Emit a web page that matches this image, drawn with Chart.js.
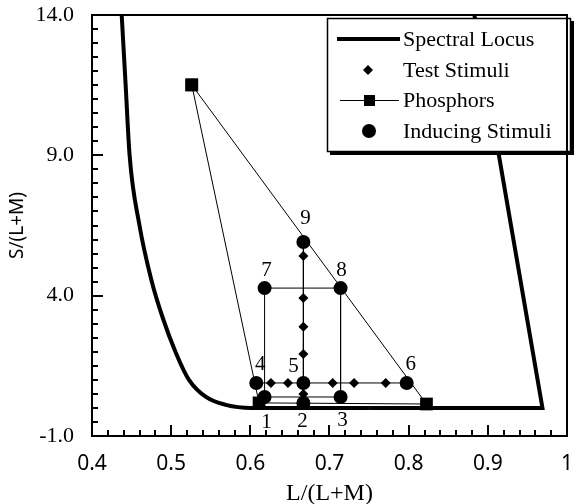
<!DOCTYPE html>
<html>
<head>
<meta charset="utf-8">
<script src="https://cdn.jsdelivr.net/npm/chart.js@4.4.1/dist/chart.umd.min.js"></script>
<style>
  html, body { margin: 0; padding: 0; background: #fff; }
  #wrap { width: 576px; height: 504px; }
</style>
</head>
<body>
<div id="wrap"><canvas id="chart"></canvas></div>
<script>
// values (L/(L+M), S/(L+M))
// curved part of the spectral locus, then the straight part on the right
const locusL = [0.4375, 0.4425, 0.4475, 0.46, 0.475, 0.489, 0.506, 0.5225, 0.544, 0.569, 0.601, 0.75];
const locusS = [14, 11.5, 9.0, 6.5, 4.56, 3.24, 1.96, 1.0, 0.39, 0.11, 0.0, 0.0];
const locusEndL = [0.75, 0.969, 0.914, 0.883];
const locusEndS = [0.0, 0.0, 9.0, 14];

const phosphorL = [0.526, 0.611, 0.8225];
const phosphorS = [11.51, 0.18, 0.14];

const testL = [0.667, 0.667, 0.667, 0.667, 0.667, 0.626, 0.6475, 0.704, 0.731, 0.771];
const testS = [5.41, 3.92, 2.89, 1.92, 0.50, 0.89, 0.89, 0.89, 0.89, 0.89];

const inducingNames = ['1', '2', '3', '4', '5', '6', '7', '8', '9'];
const inducingL = [0.618, 0.667, 0.714, 0.6075, 0.667, 0.7975, 0.618, 0.714, 0.667];
const inducingS = [0.39, 0.18, 0.39, 0.89, 0.89, 0.89, 4.27, 4.27, 5.91];

// lines joining inducing stimuli, by stimulus number
const links = [[7, 8], [8, 3], [3, 1], [1, 7], [9, 2], [4, 6]];

const xTickValues = [0.4, 0.5, 0.6, 0.7, 0.8, 0.9, 1.0];
const xTickLabels = ['0.4', '0.5', '0.6', '0.7', '0.8', '0.9', '1'];
const yTickValues = [-1, 4, 9, 14];
const yTickLabels = ['-1.0', '4.0', '9.0', '14.0'];

function pts(xs, ys) {
    return xs.map((x, i) => ({ x: x, y: ys[i] }));
}
function stim(n) {
    return { x: inducingL[n - 1], y: inducingS[n - 1] };
}

const serif = 'Liberation Serif';

const linkSets = links.map(([a, b]) => ({
    data: [stim(a), stim(b)],
    showLine: true,
    borderColor: '#000',
    borderWidth: 1,
    pointRadius: 0,
    order: 6
}));

const phosphorPts = pts(phosphorL, phosphorS);

const datasets = [
    {
        label: 'Spectral Locus',
        data: pts(locusL, locusS),
        showLine: true,
        borderColor: '#000',
        borderWidth: 4,
        pointRadius: 0,
        cubicInterpolationMode: 'monotone',
        borderJoinStyle: 'round',
        order: 5,
        legendKind: 'line'
    },
    {
        label: 'Test Stimuli',
        data: pts(testL, testS),
        pointStyle: 'rectRot',
        pointRadius: 5,
        backgroundColor: '#000',
        borderWidth: 0,
        order: 2,
        legendKind: 'diamond'
    },
    {
        label: 'Phosphors',
        data: phosphorPts.concat([phosphorPts[0]]),
        showLine: true,
        borderColor: '#000',
        borderWidth: 1,
        pointStyle: 'rect',
        pointRadius: 9,
        backgroundColor: '#000',
        pointBorderWidth: 0,
        order: 4,
        legendKind: 'square'
    },
    {
        label: 'Inducing Stimuli',
        data: pts(inducingL, inducingS),
        pointStyle: 'circle',
        pointRadius: 7,
        backgroundColor: '#000',
        borderWidth: 0,
        order: 1,
        legendKind: 'circle'
    },
    {
        data: pts(locusEndL, locusEndS),
        showLine: true,
        borderColor: '#000',
        borderWidth: 4,
        pointRadius: 0,
        tension: 0,
        order: 5
    }
].concat(linkSets);

// label offsets for the stimulus numbers, in pixels
const numberOffsets = [[2, 25], [-1, 19], [2, 23], [4, -18], [-10, -16], [4, -18], [2, -18], [1, -18], [2, -24]];

// frame with inward ticks (minor every 0.5 / 0.02)
function drawFrame(chart) {
    const ctx = chart.ctx;
    const a = chart.chartArea;
    const x = chart.scales.x;
    const y = chart.scales.y;
    ctx.save();
    ctx.fillStyle = '#000';
    for (let k = 0; k <= 30; k++) {
        const py = Math.round(y.getPixelForValue(-1 + k * 0.5));
        const len = k % 10 === 0 ? 11 : 6;
        ctx.fillRect(Math.round(a.left), py - 1, len, 2);
    }
    for (let k = 0; k <= 30; k++) {
        const px = Math.round(x.getPixelForValue(0.4 + k * 0.02));
        const len = k % 5 === 0 ? 11 : 6;
        ctx.fillRect(px - 1, Math.round(a.bottom) - len, 2, len);
    }
    ctx.strokeStyle = '#000';
    ctx.lineWidth = 2;
    ctx.strokeRect(a.left, a.top, a.right - a.left, a.bottom - a.top);
    ctx.restore();
}

const annotatePlugin = {
    id: 'annotate',
    afterDatasetsDraw(chart) {
        const { ctx, scales: { x, y } } = chart;
        ctx.save();
        ctx.fillStyle = '#000';
        ctx.font = '21px "' + serif + '"';
        ctx.textAlign = 'center';
        ctx.textBaseline = 'middle';
        inducingNames.forEach((name, i) => {
            const px = x.getPixelForValue(inducingL[i]) + numberOffsets[i][0];
            const py = y.getPixelForValue(inducingS[i]) + numberOffsets[i][1];
            ctx.fillText(name, px, py);
        });

        // legend box
        const bx = 327, by = 18, bw = 244, bh = 134;
        ctx.fillRect(bx + 3, by + 3, bw, bh);
        ctx.fillStyle = '#fff';
        ctx.fillRect(bx, by, bw, bh);
        ctx.strokeStyle = '#000';
        ctx.lineWidth = 1.5;
        ctx.strokeRect(bx + 0.5, by + 0.5, bw - 1, bh - 1);

        const rows = [39, 70, 100, 131];
        const items = chart.data.datasets.filter(d => d.label);
        ctx.fillStyle = '#000';
        ctx.textAlign = 'left';
        ctx.font = '22px "' + serif + '"';
        items.forEach((d, i) => {
            const ry = rows[i];
            ctx.beginPath();
            if (d.legendKind === 'line') {
                ctx.lineWidth = 4;
                ctx.moveTo(337, ry);
                ctx.lineTo(400, ry);
                ctx.stroke();
            } else if (d.legendKind === 'diamond') {
                ctx.moveTo(368, ry - 5);
                ctx.lineTo(373, ry);
                ctx.lineTo(368, ry + 5);
                ctx.lineTo(363, ry);
                ctx.closePath();
                ctx.fill();
            } else if (d.legendKind === 'square') {
                ctx.lineWidth = 1;
                ctx.moveTo(340, ry + 0.5);
                ctx.lineTo(399, ry + 0.5);
                ctx.stroke();
                ctx.fillRect(364, ry - 5, 11, 11);
            } else {
                ctx.arc(369, ry, 7, 0, Math.PI * 2);
                ctx.fill();
            }
            ctx.fillText(d.label, 403, ry + 1);
        });
        ctx.restore();
        drawFrame(chart);
    }
};

new Chart(document.getElementById('chart'), {
    type: 'scatter',
    data: { datasets: datasets },
    options: {
        responsive: true,
        maintainAspectRatio: false,
        animation: false,
        layout: { padding: { left: 0, right: 3, top: 15, bottom: 0 } },
        plugins: {
            legend: { display: false },
            tooltip: { enabled: false }
        },
        scales: {
            x: {
                type: 'linear',
                min: 0.4,
                max: 1.0,
                afterBuildTicks: s => { s.ticks = xTickValues.map(v => ({ value: v })); },
                afterFit: s => { s.height = 68; s.paddingLeft = 0; s.paddingRight = 0; },
                ticks: {
                    callback: (v, i) => xTickLabels[i],
                    font: { family: 'Noto Sans', size: 21 },
                    color: '#000',
                    padding: 15,
                    maxRotation: 0,
                    autoSkip: false
                },
                grid: { display: false, drawTicks: false },
                border: { display: false },
                title: {
                    display: true,
                    text: 'L/(L+M)',
                    color: '#000',
                    font: { family: serif, size: 24, lineHeight: 0.85 },
                    padding: { top: 0, bottom: 0 }
                }
            },
            y: {
                type: 'linear',
                min: -1,
                max: 14,
                afterBuildTicks: s => { s.ticks = yTickValues.map(v => ({ value: v })); },
                afterFit: s => { s.width = 92; s.paddingTop = 0; s.paddingBottom = 0; },
                ticks: {
                    callback: (v, i) => yTickLabels[i],
                    font: { family: serif, size: 22 },
                    color: '#000',
                    padding: 18,
                    autoSkip: false
                },
                grid: { display: false, drawTicks: false },
                border: { display: false },
                title: {
                    display: true,
                    text: 'S/(L+M)',
                    color: '#000',
                    font: { family: 'Noto Sans', size: 19 },
                    padding: { top: 6, bottom: 0 }
                }
            }
        }
    },
    plugins: [annotatePlugin]
});
</script>
</body>
</html>
